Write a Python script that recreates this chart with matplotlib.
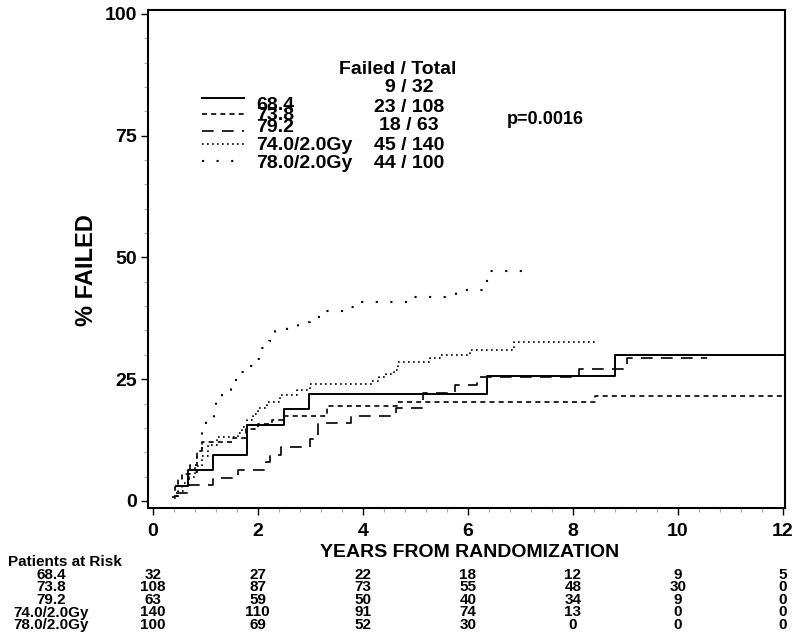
import matplotlib
matplotlib.use("Agg")
import matplotlib.pyplot as plt
from matplotlib import font_manager
from matplotlib.lines import Line2D
from matplotlib.ticker import MultipleLocator
from matplotlib.transforms import blended_transform_factory

# -------------------- DATA --------------------
groups = ["68.4", "73.8", "79.2", "74.0/2.0Gy", "78.0/2.0Gy"]
failed_total = ["9 / 32", "23 / 108", "18 / 63", "45 / 140", "44 / 100"]
p_text = "p=0.0016"

# cumulative % failed, step curves (time in years)
t_684 = [0.45, 0.67, 1.14, 1.79, 2.50, 2.98, 6.37, 8.80, 12.0]
y_684 = [3.1, 6.3, 9.4, 15.6, 18.8, 21.9, 25.7, 30.0, 30.0]

t_738 = [0.36, 0.42, 0.48, 0.55, 0.71, 0.85, 0.93, 1.52, 1.78, 2.01, 2.27, 2.50, 3.31, 4.65, 8.43, 12.0]
y_738 = [0.9, 2.8, 4.6, 5.6, 7.4, 10.2, 12.0, 12.9, 14.8, 15.7, 16.6, 17.5, 19.5, 20.4, 21.6, 21.6]

t_792 = [0.45, 0.69, 1.14, 1.63, 2.15, 2.23, 2.44, 3.00, 3.14, 3.77, 4.63, 5.15, 5.76, 6.17, 8.12, 9.03, 10.55]
y_792 = [1.6, 3.2, 4.8, 6.3, 7.9, 9.5, 11.1, 12.7, 15.9, 17.5, 19.0, 22.2, 23.8, 25.4, 27.0, 29.3, 29.3]

t_740 = [0.40, 0.48, 0.58, 0.68, 0.80, 0.93, 1.05, 1.22, 1.63, 1.70, 1.79, 1.90, 2.00, 2.17, 2.42,
         2.74, 3.00, 4.17, 4.30, 4.45, 4.60, 4.68, 5.28, 5.47, 6.04, 6.87, 8.46]
y_740 = [0.7, 2.1, 3.6, 5.0, 7.1, 9.3, 11.4, 13.2, 13.9, 15.2, 16.6, 17.9, 19.1, 20.4, 21.8,
         22.8, 24.0, 24.7, 25.5, 26.1, 26.8, 28.6, 29.3, 30.0, 31.0, 32.7, 32.7]

t_780 = [0.44, 0.55, 0.70, 0.85, 0.93, 1.01, 1.16, 1.21, 1.31, 1.50, 1.59, 1.78, 1.97, 2.02, 2.22,
         2.33, 2.55, 2.77, 3.00, 3.22, 3.77, 3.98, 4.90, 5.78, 6.29, 6.36, 7.05]
y_780 = [1.0, 3.0, 6.0, 10.0, 14.1, 16.5, 18.3, 20.9, 22.8, 24.2, 26.4, 27.7, 29.1, 31.5, 32.9,
         34.8, 35.8, 36.8, 37.8, 38.9, 39.9, 40.9, 41.9, 43.3, 44.9, 47.2, 47.2]

# patients at risk
risk_years = [0, 2, 4, 6, 8, 10, 12]
risk_684 = [32, 27, 22, 18, 12, 9, 5]
risk_738 = [108, 87, 73, 55, 48, 30, 0]
risk_792 = [63, 59, 50, 40, 34, 9, 0]
risk_740 = [140, 110, 91, 74, 13, 0, 0]
risk_780 = [100, 69, 52, 30, 0, 0, 0]

curves = [(t_684, y_684), (t_738, y_738), (t_792, y_792), (t_740, y_740), (t_780, y_780)]
risks = [risk_684, risk_738, risk_792, risk_740, risk_780]

# -------------------- STYLE --------------------
plt.rcParams['font.family'] = ['Liberation Sans', 'DejaVu Sans']
plt.rcParams['font.weight'] = 'bold'

styles = ['-', (0, (3, 2.5)), (0, (7, 5)), (0, (1, 2)), (0, (1, 6))]
widths = [1.4, 1.2, 1.2, 1.2, 1.5]

# narrow font for the x label if present
try:
    font_manager.findfont(font_manager.FontProperties(family='Liberation Sans Narrow'),
                          fallback_to_default=False)
    xlab_font = dict(family=['Liberation Sans Narrow', 'Liberation Sans'], size=17)
except Exception:
    xlab_font = dict(family=['Liberation Sans', 'DejaVu Sans'], size=14)

W, H = 800, 638
def fx(px):
    return px / W
def fy(py):
    return 1 - py / H

# -------------------- FIGURE --------------------
fig = plt.figure(figsize=(8, 6.38), dpi=100)
ax = fig.add_axes([fx(148), fy(508), 637 / W, 498 / H])

for (t, y), ls, lw in zip(curves, styles, widths):
    ax.step(t, y, where='post', color='black', linestyle=ls, linewidth=lw)

ax.set_xlim(-0.09, 12.04)
ax.set_ylim(-1.45, 100.8)
ax.set_xticks(risk_years)
ax.set_yticks([0, 25, 50, 75, 100])
ax.xaxis.set_minor_locator(MultipleLocator(0.4))
ax.yaxis.set_minor_locator(MultipleLocator(5))
ax.tick_params(which='major', direction='out', length=5, width=1, labelsize=14, pad=6)
ax.tick_params(axis='y', which='major', pad=3)
ax.tick_params(which='minor', direction='out', length=3, width=0.8, color='#aaaaaa')
for lab in ax.get_xticklabels() + ax.get_yticklabels():
    lab.set_fontweight('bold')
for s in ax.spines.values():
    s.set_linewidth(1.5)

ax.set_ylabel("% FAILED", fontsize=17, fontweight='bold')
ax.yaxis.set_label_coords(-0.078, 0.478)
ax.set_xlabel("YEARS FROM RANDOMIZATION", fontweight='bold', **xlab_font)
ax.xaxis.set_label_coords(0.505, -0.072)

# -------------------- LEGEND --------------------
line_y = [97.7, 114.3, 131, 144.3, 161]
label_y = [105, 116, 128, 145, 163]
value_y = [87, 107, 125, 145, 163]
for i in range(len(groups)):
    fig.add_artist(Line2D([fx(202), fx(244)], [fy(line_y[i])] * 2, color='black',
                          linestyle=styles[i], linewidth=widths[i]))
    fig.text(fx(256), fy(label_y[i]), groups[i], fontsize=14, fontweight='bold',
             ha='left', va='center')
    fig.text(fx(409), fy(value_y[i]), failed_total[i], fontsize=14, fontweight='bold',
             ha='center', va='center')
fig.text(fx(398), fy(70), "Failed / Total", fontsize=14, fontweight='bold',
         ha='center', va='center')
fig.text(fx(507), fy(120), p_text, fontsize=13, fontweight='bold', ha='left', va='center')

# -------------------- AT RISK TABLE --------------------
tr = blended_transform_factory(ax.transData, fig.transFigure)
row_y = [575, 587, 600, 612.5, 625]
fig.text(fx(8), fy(562), "Patients at Risk", fontsize=11, fontweight='bold',
         ha='left', va='center')
for i in range(len(groups)):
    fig.text(fx(51), fy(row_y[i]), groups[i], fontsize=11, fontweight='bold',
             ha='center', va='center')
    for yr, n in zip(risk_years, risks[i]):
        ax.text(yr, fy(row_y[i]), str(n), transform=tr, fontsize=11, fontweight='bold',
                ha='center', va='center', clip_on=False)

fig.savefig("out.png", dpi=100)
